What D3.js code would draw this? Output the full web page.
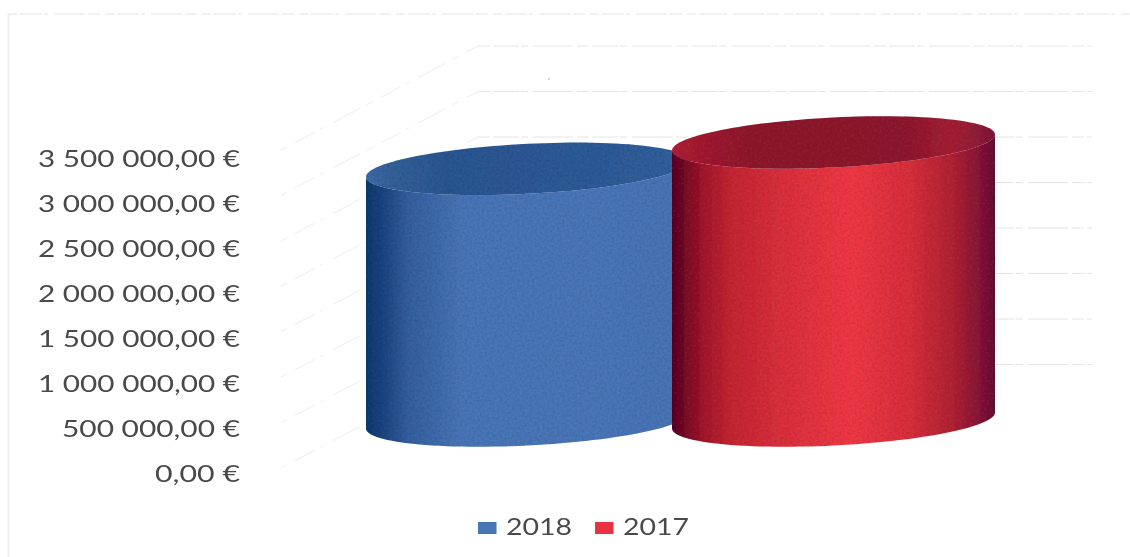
<!DOCTYPE html>
<html>
<head>
<meta charset="utf-8">
<script src="https://cdn.jsdelivr.net/npm/d3@7"></script>
<style>
  html, body { margin: 0; padding: 0; background: #fff; }
  svg { display: block; }
</style>
</head>
<body>
<svg id="chart" width="1130" height="557"></svg>
<script>
// Yearly totals, drawn as two 3-D cylinders
const categories = ["2018", "2017"];
const values = [2770000, 3060000];
const tickValues = [0, 500000, 1000000, 1500000, 2000000, 2500000, 3000000, 3500000];
const tickLabels = ["0,00 €", "500 000,00 €", "1 000 000,00 €", "1 500 000,00 €",
                    "2 000 000,00 €", "2 500 000,00 €", "3 000 000,00 €", "3 500 000,00 €"];
const tickWidths = [85, 178, 202, 202, 202, 202, 202, 202];
const baseColors = ["#4a76b8", "#e8343f"];
const bodyStops = [
  [[0, "#163a6e"], [0.05, "#1f4580"], [0.13, "#35609f"], [0.3, "#4a76b8"], [0.7, "#4b77b9"], [1, "#4873b5"]],
  [[0, "#560b26"], [0.04, "#7a1228"], [0.1, "#a41c2e"], [0.18, "#c42834"], [0.35, "#dc323e"], [0.56, "#f03a46"],
   [0.74, "#d8303c"], [0.87, "#b02535"], [0.95, "#8a1a38"], [1, "#641236"]]
];
const topStops = [
  [[0, "#3f6aab"], [0.08, "#346199"], [0.25, "#2c5792"], [0.75, "#2f5c98"], [1, "#34619e"]],
  [[0, "#b22438"], [0.08, "#a41f32"], [0.25, "#8e1a2e"], [0.72, "#8e1a30"], [0.87, "#a62436"], [0.95, "#90203a"], [1, "#7a1a3c"]]
];

const svg = d3.select("#chart");
const defs = svg.append("defs");

// Plot geometry: a front plane for the labels and a back wall for the gridlines
const frontY = d3.scaleLinear().domain([0, 3500000]).range([474, 159]);
const sideY = d3.scaleLinear().domain([0, 3500000]).range([468, 150]);
const backY = d3.scaleLinear().domain([0, 3500000]).range([364.5, 46]);
const barHeight = d3.scaleLinear().domain([0, 3500000]).range([0, 318]);
const barX = d3.scalePoint().domain(categories).range([527.5, 833.5]);
const wallLeft = 478, wallRight = 1092, sideLeft = 281;
const rx = 161.5, skewY = -8, ry = 25, baseY = 420.5;

// Scanned-paper grain over the cylinder faces
const grain = defs.append("filter").attr("id", "grain")
  .attr("x", 0).attr("y", 0).attr("width", 1).attr("height", 1);
grain.append("feTurbulence").attr("type", "fractalNoise").attr("baseFrequency", 0.4)
  .attr("numOctaves", 2).attr("seed", 4).attr("result", "n");
grain.append("feColorMatrix").attr("in", "n").attr("type", "matrix")
  .attr("values", "0 0 0 0 0  0 0 0 0 0  0 0 0 0 0  0.42 0 0 0 -0.14").attr("result", "a");
grain.append("feComposite").attr("in", "a").attr("in2", "SourceAlpha").attr("operator", "in").attr("result", "g");
grain.append("feMerge").selectAll("feMergeNode").data(["SourceGraphic", "g"]).join("feMergeNode").attr("in", d => d);

const soft = defs.append("filter").attr("id", "soft");
soft.append("feGaussianBlur").attr("stdDeviation", 0.35);

// Chart frame, printed faintly
const frame = svg.append("g").attr("stroke", "#e2e2e2").attr("fill", "none");
frame.append("line").attr("x1", 8).attr("x2", 1130).attr("y1", 14).attr("y2", 14)
  .attr("stroke-dasharray", "9 3 22 2 4 6 31 3 12 5");
frame.append("line").attr("x1", 8.5).attr("x2", 8.5).attr("y1", 14).attr("y2", 557)
  .attr("stroke", "#f0f0f0").attr("stroke-width", 2);

// Gridlines on the back wall and the side wall
const grid = svg.append("g").attr("fill", "none");
grid.selectAll("line.back").data(tickValues).join("line").attr("class", "back")
  .attr("x1", wallLeft).attr("x2", wallRight)
  .attr("y1", d => backY(d)).attr("y2", d => backY(d))
  .attr("stroke", "#e4e4e4").attr("stroke-dasharray", "12 3 26 2 7 5 40 4");
grid.selectAll("line.side").data(tickValues).join("line").attr("class", "side")
  .attr("x1", sideLeft).attr("x2", wallLeft)
  .attr("y1", d => sideY(d)).attr("y2", d => backY(d))
  .attr("stroke", "#ececec").attr("stroke-dasharray", "7 9 22 6 4 11 30 8");

// Value axis on the front plane
const axis = d3.axisLeft(frontY).tickValues(tickValues)
  .tickFormat((d, i) => tickLabels[i]).tickSize(0).tickPadding(0);
const axisG = svg.append("g").attr("transform", "translate(240,0)").call(axis);
axisG.select(".domain").remove();
axisG.selectAll("text")
  .attr("font-family", "Lato, sans-serif").attr("font-size", 23).attr("fill", "#4a4a4a")
  .attr("textLength", (d, i) => tickWidths[i]).attr("lengthAdjust", "spacingAndGlyphs")
  .attr("filter", "url(#soft)");

// One point on a tilted cross-section of a cylinder
const rim = (cx, cy, t) => [cx + rx * Math.cos(t), cy + skewY * Math.cos(t) + ry * Math.sin(t)];
const line = d3.line();
const frontArc = (cx, cy, reverse) => {
  const pts = d3.range(0, 181, 3).map(a => rim(cx, cy, a * Math.PI / 180));
  return reverse ? pts : pts.reverse();
};
const addGradient = (id, cx, stops) => {
  const grad = defs.append("linearGradient").attr("id", id)
    .attr("gradientUnits", "userSpaceOnUse")
    .attr("x1", cx - rx).attr("x2", cx + rx).attr("y1", 0).attr("y2", 0);
  stops.forEach(s => grad.append("stop").attr("offset", s[0]).attr("stop-color", s[1]));
};

categories.forEach((name, i) => {
  const cx = barX(name);
  const topY = baseY - barHeight(values[i]);
  addGradient("body" + i, cx, bodyStops[i]);
  addGradient("top" + i, cx, topStops[i]);

  const g = svg.append("g").attr("class", "cylinder").attr("filter", "url(#grain)");
  // side surface: front arc of the base, then back along the front arc of the top
  const outline = frontArc(cx, baseY, false).concat(frontArc(cx, topY, true));
  g.append("path").attr("d", line(outline) + "Z").attr("fill", `url(#body${i})`);
  // top face
  const ring = d3.range(0, 360, 3).map(a => rim(cx, topY, a * Math.PI / 180));
  g.append("path").attr("d", line(ring) + "Z").attr("fill", `url(#top${i})`);
});

// Legend along the bottom
const legendX = d3.scalePoint().domain(categories).range([478, 595]);
const legend = svg.append("g");
categories.forEach((name, i) => {
  legend.append("rect").attr("x", legendX(name)).attr("y", 522)
    .attr("width", 18.5).attr("height", 12).attr("fill", baseColors[i]);
  legend.append("text").attr("x", legendX(name) + 28).attr("y", 534.5)
    .attr("font-family", "Lato, sans-serif").attr("font-size", 24).attr("fill", "#4a4a4a")
    .attr("textLength", 66).attr("lengthAdjust", "spacingAndGlyphs")
    .attr("filter", "url(#soft)").text(name);
});

// Stray printing speck on the back wall
svg.append("circle").attr("cx", 549).attr("cy", 79).attr("r", 0.8).attr("fill", "#999");
</script>
</body>
</html>
